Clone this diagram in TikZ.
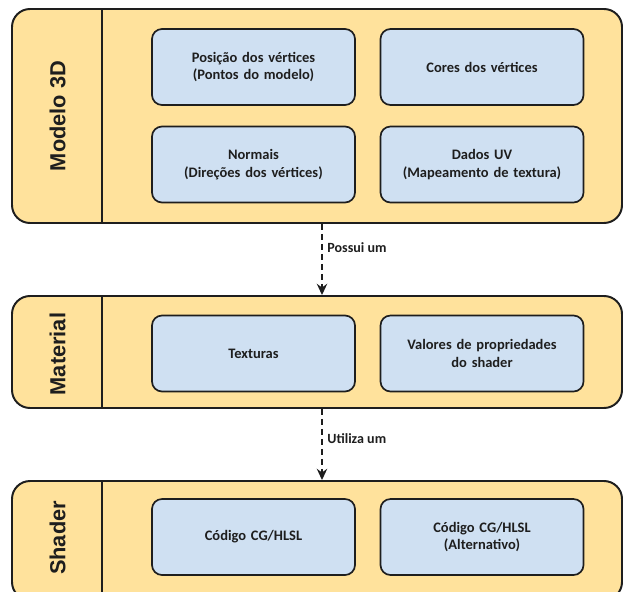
\documentclass[tikz,border=0pt]{standalone}
\usepackage{fontspec}
\setmainfont{Carlito}
\newfontfamily\tagfont{Liberation Sans}
\usetikzlibrary{arrows.meta}
\definecolor{panelfill}{HTML}{FFE29C}
\definecolor{partfill}{HTML}{CFE0F2}
\definecolor{ink}{HTML}{1E1E1E}

\begin{document}
\begin{tikzpicture}[
panel/.style={draw=ink,line width=1.4pt,fill=panelfill,rectangle,rounded corners=0.45cm,
    minimum width=15.25cm,inner sep=0pt},
part/.style={draw=ink,line width=1.2pt,fill=partfill,rectangle,rounded corners=0.25cm,
    minimum width=5.075cm,minimum height=1.9cm,text width=4.8cm,align=center,
    font=\fontsize{10.3}{12.8}\selectfont\bfseries,text=ink},
tag/.style={rotate=90,font=\tagfont\fontsize{15.5}{17}\selectfont\bfseries,text=ink},
flow/.style={draw=ink,line width=1pt,dash pattern=on 0.15cm off 0.1cm,
    -{Stealth[length=0.28cm,width=0.26cm]}},
flowlabel/.style={right,font=\fontsize{10}{12}\selectfont\bfseries,text=ink}]
\useasboundingbox (0,0) rectangle (15.6,-14.775);
\clip (0,0) rectangle (15.6,-14.775);

\node (modelo) [panel,minimum height=5.35cm] at (7.925,-2.9) {};
\node (material) [panel,minimum height=2.8cm] at (7.925,-8.8) {};
\node (shader) [panel,minimum height=2.975cm] at (7.925,-13.5125) {};
\foreach \p in {modelo,material,shader}
    \draw [ink,line width=1pt] ([xshift=2.275cm]\p.north west) -- ([xshift=2.275cm]\p.south west);

\node (tmodelo) [tag] at (1.4375,-2.9) {Modelo 3D};
\node (tmaterial) [tag] at (1.4375,-8.85) {Material};
\node (tshader) [tag] at (1.4375,-13.45) {Shader};

\node (posicao) [part] at (6.3375,-1.675) {Posição dos vértices\\(Pontos do modelo)};
\node (cores) [part] at (12.05,-1.675) {Cores dos vértices};
\node (normais) [part] at (6.3375,-4.1125) {Normais\\(Direções dos vértices)};
\node (uv) [part] at (12.05,-4.1125) {Dados UV\\(Mapeamento de textura)};

\node (texturas) [part] at (6.3375,-8.8375) {Texturas};
\node (valores) [part] at (12.05,-8.8375) {Valores de propriedades\\do shader};

\node (codigo) [part] at (6.3375,-13.425) {Código CG/HLSL};
\node (alternativo) [part] at (12.05,-13.425) {Código CG/HLSL\\(Alternativo)};

\draw [flow] ([xshift=0.125cm]modelo.south) -- ([xshift=0.125cm]material.north)
    node (possui) [flowlabel,pos=0.33] {Possui um};
\draw [flow] ([xshift=0.125cm]material.south) -- ([xshift=0.125cm]shader.north)
    node (utiliza) [flowlabel,pos=0.42] {Utiliza um};
\end{tikzpicture}
\end{document}
